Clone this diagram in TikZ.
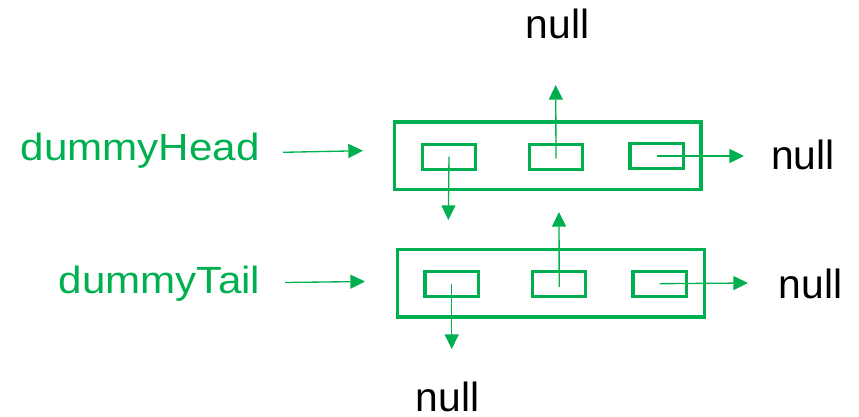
\documentclass[tikz,border=0pt]{standalone}
\usepackage{fontspec}
\usepackage{graphicx}
\setmainfont{Liberation Sans}
\usetikzlibrary{arrows.meta}
\definecolor{lgreen}{RGB}{0,176,80}
\begin{document}
\begin{tikzpicture}[x=0.75pt,y=-0.75pt,
  frame/.style={draw=lgreen,line width=2.5pt,minimum width=230pt,minimum height=50.5pt,inner sep=0pt,outer sep=0pt},
  cell/.style={draw=lgreen,line width=2.4pt,minimum width=40pt,minimum height=18.6pt,inner sep=0pt,outer sep=0pt},
  ptr/.style={draw=lgreen,line width=1pt,-{Triangle[length=11pt,width=10.5pt]}},
  nulltext/.style={font=\fontsize{30.6}{36}\selectfont,inner sep=0pt,text depth=0pt,anchor=base west},
  lbl/.style={text=lgreen,font=\fontsize{31.6}{36}\selectfont,inner sep=0pt,anchor=base west}]
\useasboundingbox (0,0) rectangle (859,417);

% head node
\node[frame] (hf) at (547.5,155.7) {};
\node[cell] (h1) at (449,156.7) {};
\node[cell] (h2) at (556,156.7) {};
\node[cell] (h3) at (656.7,156) {};

% tail node
\node[frame] (tf) at (551,283.3) {};
\node[cell] (t1) at (451.7,284.2) {};
\node[cell] (t2) at (559.2,284.2) {};
\node[cell] (t3) at (659.7,283.7) {};

% labels
\node[lbl] (dh) at (20.6,160.7) {\scalebox{1}[0.9]{dummyHead}};
\node[lbl] (dt) at (58.6,293.3) {\scalebox{1}[0.9]{dummyTail}};
\node[nulltext] (n1) at (525.5,39) {null};
\node[nulltext] (n2) at (770.8,170) {null};
\node[nulltext] (n3) at (778.6,298) {null};
\node[nulltext] (n4) at (415.5,411.5) {null};

% pointer ends
\coordinate (dhs) at (283,152.3);
\coordinate (dhe) at (363,150.7);
\coordinate (dts) at (285,282.5);
\coordinate (dte) at (365,281.5);
\coordinate (h1e) at (448.3,220);
\coordinate (h2e) at (555.7,85);
\coordinate (h3e) at (744,156);
\coordinate (t1e) at (451.7,349);
\coordinate (t2e) at (559,212);
\coordinate (t3e) at (748,283);

% pointers
\draw[ptr] (dhs) -- (dhe);
\draw[ptr] (dts) -- (dte);
\draw[ptr] (h1.center) -- (h1e);
\draw[ptr] ([yshift=-1.5pt]h2.center) -- (h2e);
\draw[ptr] (h3.center) -- (h3e);
\draw[ptr] (t1.center) -- (t1e);
\draw[ptr] ([yshift=-2pt]t2.center) -- (t2e);
\draw[ptr] (t3.center) -- (t3e);
\end{tikzpicture}
\end{document}
